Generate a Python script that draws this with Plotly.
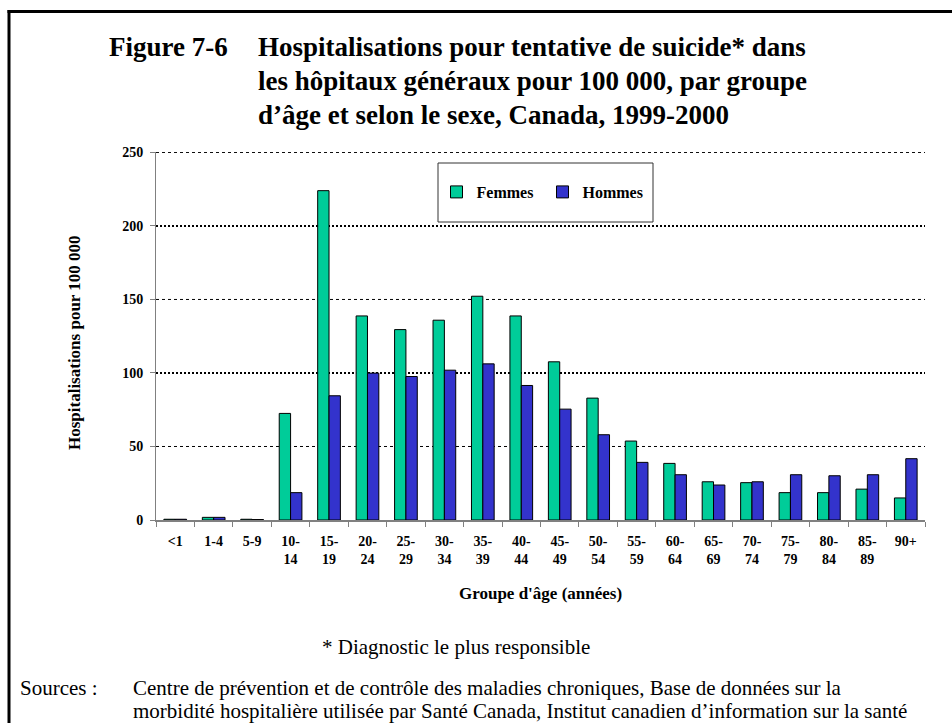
import plotly.graph_objects as go

# Age groups (categories) and the two-line tick labels shown under the axis
age_groups = ["<1", "1-4", "5-9", "10-14", "15-19", "20-24", "25-29", "30-34",
              "35-39", "40-44", "45-49", "50-54", "55-59", "60-64", "65-69",
              "70-74", "75-79", "80-84", "85-89", "90+"]
tick_labels = ["<1", "1-4", "5-9", "10-<br>14", "15-<br>19", "20-<br>24", "25-<br>29",
               "30-<br>34", "35-<br>39", "40-<br>44", "45-<br>49", "50-<br>54",
               "55-<br>59", "60-<br>64", "65-<br>69", "70-<br>74", "75-<br>79",
               "80-<br>84", "85-<br>89", "90+"]

# Hospitalisations per 100 000
femmes = [0.5, 1.8, 0.5, 72.5, 224.0, 138.8, 129.5, 135.9, 152.2, 138.8,
          107.6, 82.9, 53.7, 38.5, 26.0, 25.4, 18.6, 18.6, 21.0, 15.0]
hommes = [0.5, 1.8, 0.3, 18.6, 84.5, 99.9, 97.6, 101.9, 106.2, 91.5,
          75.4, 58.0, 39.2, 30.8, 23.8, 26.0, 30.8, 30.1, 30.8, 41.7]

y_ticks = [0, 50, 100, 150, 200, 250]

SERIF = "Liberation Serif"
FIG_W, FIG_H = 952, 723
L, T, R, B = 156, 152, 27, 203
PW, PH = FIG_W - L - R, FIG_H - T - B


def px_x(x):
    return (x - L) / PW


def px_y(y):
    return (T + PH - y) / PH


def note(text, x, y, size, xanchor="left", angle=0):
    return dict(text=text, xref="paper", yref="paper", x=px_x(x), y=px_y(y),
                xanchor=xanchor, yanchor="middle", textangle=angle, showarrow=False,
                font=dict(family=SERIF, size=size, color="black"))


fig = go.Figure()
fig.add_trace(go.Bar(
    name="Femmes", x=age_groups, y=femmes,
    marker=dict(color="#00CC99", line=dict(color="#000000", width=1)),
))
fig.add_trace(go.Bar(
    name="Hommes", x=age_groups, y=hommes,
    marker=dict(color="#3333CC", line=dict(color="#000000", width=1)),
))

annotations = []
# Title block
annotations.append(note("<b>Figure 7-6</b>", 107, 47, 27))
for i, line in enumerate(["Hospitalisations pour tentative de suicide* dans",
                          "les hôpitaux généraux pour 100 000, par groupe",
                          "d\u2019âge et selon le sexe, Canada, 1999-2000"]):
    annotations.append(note("<b>" + line + "</b>", 256, 47 + 34 * i, 27))

# Axis titles
annotations.append(note("<b>Hospitalisations pour 100 000</b>", 74, 343, 17,
                        xanchor="center", angle=-90))
annotations.append(note("<b>Groupe d'âge (années)</b>", 540, 593, 17, xanchor="center"))

# Footnotes
annotations.append(note("* Diagnostic le plus responsible", 456, 647, 21, xanchor="center"))
annotations.append(note("Sources :", 18, 688, 21))
annotations.append(note("Centre de prévention et de contrôle des maladies chroniques, "
                        "Base de données sur la", 131, 688, 21))
annotations.append(note("morbidité hospitalière utilisée par Santé Canada, "
                        "Institut canadien d\u2019information sur la santé", 131, 711, 21))

shapes = [
    # frame: left and top edges
    dict(type="line", xref="paper", yref="paper", x0=px_x(9), x1=px_x(9),
         y0=px_y(10), y1=px_y(730), line=dict(color="black", width=3)),
    dict(type="line", xref="paper", yref="paper", x0=px_x(7.5), x1=px_x(960),
         y0=px_y(11.5), y1=px_y(11.5), line=dict(color="black", width=3)),
]
# dotted horizontal grid at each labelled value; the hundreds are heavier
for v in y_ticks[1:]:
    heavy = v % 100 == 0
    shapes.append(dict(type="line", xref="paper", yref="y", x0=0, x1=1, y0=v, y1=v,
                       layer="below",
                       line=dict(color="black", width=2 if heavy else 1,
                                 dash="2px,2px" if heavy else "3px,3px")))
# legend frame
shapes.append(dict(type="rect", xref="paper", yref="paper", x0=px_x(438), x1=px_x(653),
                   y0=px_y(163), y1=px_y(222), line=dict(color="#333333", width=1),
                   fillcolor="white", layer="above"))

fig.update_layout(
    width=FIG_W, height=FIG_H,
    margin=dict(l=L, r=R, t=T, b=B, pad=0),
    paper_bgcolor="white", plot_bgcolor="white",
    barmode="group", bargap=0.41, bargroupgap=0,
    showlegend=True,
    legend=dict(orientation="h", x=px_x(436.5), y=px_y(192), xanchor="left", yanchor="middle",
                bgcolor="rgba(0,0,0,0)", borderwidth=0, entrywidth=61, itemwidth=30,
                font=dict(family=SERIF, size=16, color="black", weight="bold"),
                traceorder="normal"),
    xaxis=dict(type="category", tickmode="array", tickvals=age_groups, ticktext=tick_labels,
               range=[-0.5, len(age_groups) - 0.5],
               tickson="boundaries", ticks="outside", ticklen=5, tickcolor="#808080",
               showline=True, linecolor="#808080", linewidth=2, showgrid=False,
               ticklabelstandoff=7,
               tickfont=dict(family=SERIF, size=14, color="black", weight="bold"),
               automargin=False, fixedrange=True),
    yaxis=dict(range=[0, 250.3], tickmode="array", tickvals=y_ticks, ticks="outside",
               ticklen=5, tickcolor="#808080", showline=True, linecolor="#808080", linewidth=1,
               showgrid=False, zeroline=False, ticklabelstandoff=4,
               tickfont=dict(family=SERIF, size=14, color="black", weight="bold"),
               automargin=False, fixedrange=True),
    annotations=annotations,
    shapes=shapes,
)

fig.write_html("out.html")
